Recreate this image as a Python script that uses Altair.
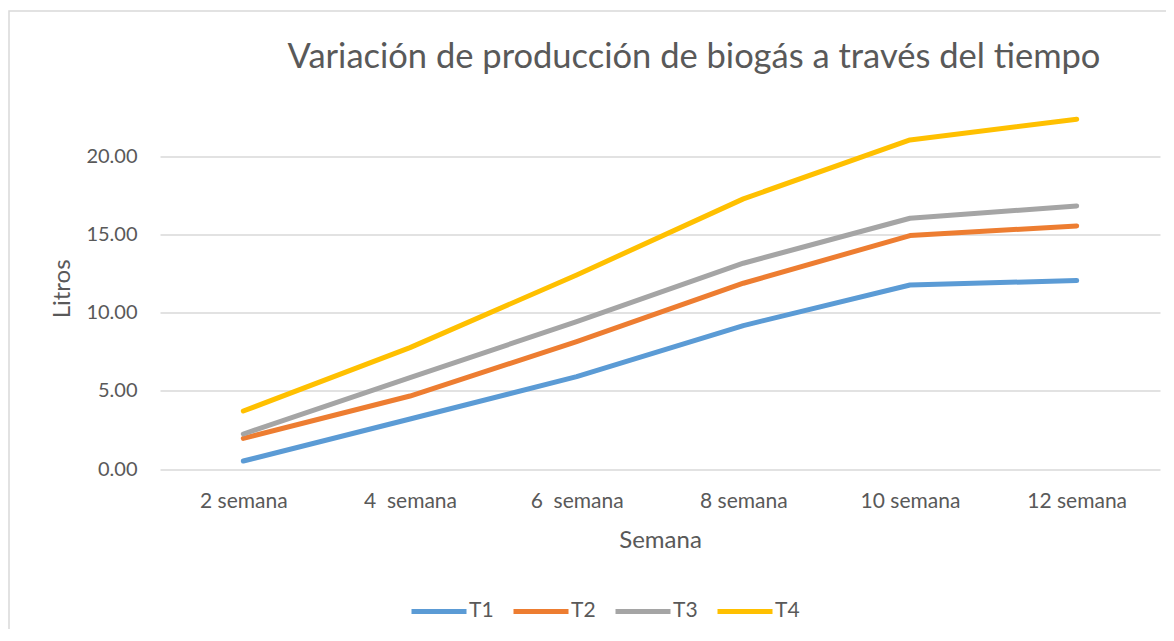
import altair as alt
import pandas as pd

title_text = "Variación de producción de biogás a través del tiempo"
weeks = ["2 semana", "4  semana", "6  semana", "8 semana", "10 semana", "12 semana"]
series = ["T1", "T2", "T3", "T4"]
T1 = [0.51, 3.20, 5.91, 9.18, 11.78, 12.06]
T2 = [1.96, 4.67, 8.15, 11.89, 14.94, 15.56]
T3 = [2.24, 5.85, 9.43, 13.17, 16.05, 16.84]
T4 = [3.71, 7.77, 12.42, 17.29, 21.06, 22.39]
colors = ["#5B9BD5", "#ED7D31", "#A5A5A5", "#FFC000"]
y_ticks = [0, 5, 10, 15, 20]

rows = []
for name, vals in zip(series, [T1, T2, T3, T4]):
    for w, v in zip(weeks, vals):
        rows.append({"Semana": w, "Serie": name, "Litros": v})
df = pd.DataFrame(rows)

FONT = "Lato"
GREY = "#595959"
W, H = 1000, 390.6

lines = alt.Chart(df).mark_line(strokeWidth=5, strokeCap="round", strokeJoin="round").encode(
    x=alt.X("Semana:N", sort=weeks,
            scale=alt.Scale(type="point", padding=0.5),
            axis=alt.Axis(title="Semana", labelAngle=0, ticks=False, domain=False, grid=False,
                          labelPadding=21, labelFontSize=21, labelColor=GREY, labelFont=FONT,
                          labelExpr="replace(datum.label, '  ', ' \u00a0')",
                          titleFontSize=24, titleColor=GREY, titleFont=FONT, titleFontWeight="normal",
                          titleX=500, titleY=71, titleBaseline="middle", titleAlign="center")),
    y=alt.Y("Litros:Q", scale=alt.Scale(domain=[0, 25], nice=False),
            axis=alt.Axis(title="Litros", values=y_ticks, format=".2f", ticks=False, domain=False,
                          gridColor="#D9D9D9", gridWidth=1.5,
                          labelPadding=23, labelFontSize=20, labelColor=GREY, labelFont=FONT,
                          titleFontSize=24, titleColor=GREY, titleFont=FONT, titleFontWeight="normal",
                          titleX=-98, titleY=210, titleAngle=-90, titleBaseline="middle",
                          titleAlign="center")),
    color=alt.Color("Serie:N", sort=series,
                    scale=alt.Scale(domain=series, range=colors),
                    legend=alt.Legend(title=None, orient="none", direction="horizontal",
                                      legendX=249, legendY=503, padding=0,
                                      symbolType="stroke", symbolSize=3025, symbolStrokeWidth=5,
                                      labelFontSize=21, labelColor=GREY, labelFont=FONT,
                                      labelOffset=0, columnPadding=9)),
)

title = alt.Chart(alt.Data(values=[{"t": title_text}])).mark_text(
    font=FONT, fontSize=34.5, color=GREY, align="center", baseline="alphabetic"
).encode(text="t:N", x=alt.value(534), y=alt.value(-10))

border = alt.Chart(alt.Data(values=[{"a": 1}])).mark_rect(
    fill=None, stroke="#D9D9D9", strokeWidth=1.5
).encode(x=alt.value(-151), x2=alt.value(1020), y=alt.value(-67.4), y2=alt.value(600))

chart = alt.layer(border, lines, title).properties(
    width=W, height=H,
    autosize=alt.AutoSizeParams(type="none"),
    padding={"left": 152, "top": 70.4, "right": 6, "bottom": 160},
).configure(background="white").configure_view(stroke=None)

chart.save("out.html", embed_options={"renderer": "svg", "actions": False})
